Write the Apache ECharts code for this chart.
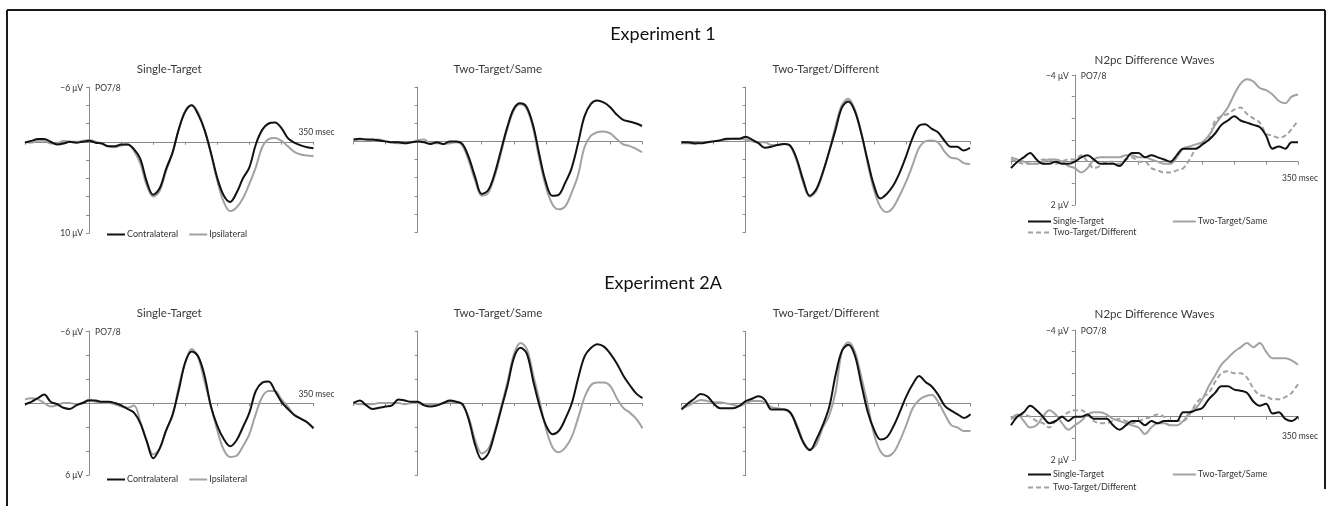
<!DOCTYPE html>
<html><head><meta charset="utf-8">
<script src="https://cdn.jsdelivr.net/npm/echarts/dist/echarts.min.js"></script>
<style>html,body{margin:0;padding:0;background:#fff}#c{width:1333px;height:506px}</style>
</head><body><div id="c"></div>
<script>
// ---------- data (μV, negative plotted upward) ----------
const times = [-100,-90,-80,-70,-60,-50,-40,-30,-20,-10,0,10,20,30,40,50,60,70,80,90,100,110,120,130,140,150,160,170,180,190,200,210,220,230,240,250,260,270,280,290,300,310,320,330,340,350];

const e1SingleContra = [0.1,-0.1,-0.3,-0.3,0.0,0.3,0.2,0.0,0.1,0.0, -0.1,0.1,0.2,0.5,0.5,0.3,0.3,0.8,1.9,4.4, 5.8,5.1,3.0,1.2,-1.4,-3.3,-4.0,-3.0,-1.3,1.2, 4.0,5.9,6.6,5.6,4.0,2.8,0.3,-1.3,-2.0,-2.1, -1.5,-0.4,0.1,0.4,0.6,0.7];
const e1SingleIpsi  = [0.0,0.1,-0.1,-0.1,0.2,0.2,-0.1,0.0,0.0,-0.1, -0.2,0.0,0.2,0.5,0.6,0.4,0.3,1.0,2.4,4.8, 6.0,5.4,3.2,1.3,-1.4,-3.4,-4.0,-3.2,-1.3,1.3, 4.3,6.6,7.6,7.2,6.2,4.6,2.8,0.6,-0.3,-0.4, -0.1,0.5,1.1,1.4,1.5,1.6];
const e1SameContra  = [-0.2,-0.3,-0.2,-0.2,-0.1,0.0,0.1,0.1,0.2,0.1, 0.0,0.1,0.3,0.1,0.3,0.0,0.0,0.3,1.8,4.0, 5.8,5.4,3.6,1.0,-1.6,-3.6,-4.2,-3.8,-1.8,1.5, 4.5,6.0,5.9,4.6,3.0,0.3,-2.7,-4.1,-4.5,-4.3, -3.8,-3.0,-2.4,-2.2,-2.0,-1.7];
const e1SameIpsi    = [-0.1,-0.2,-0.2,-0.1,-0.2,0.0,0.1,0.2,0.2,0.1, -0.1,-0.2,0.2,0.2,0.3,0.2,0.1,0.5,2.2,4.4, 6.0,5.7,3.9,1.3,-1.4,-3.4,-4.1,-3.6,-1.5,2.0, 5.0,6.9,7.5,7.2,5.7,3.8,0.7,-0.6,-1.0,-1.1, -0.9,-0.3,0.3,0.5,0.8,1.2];
const e1DiffContra  = [0.1,0.1,0.2,0.2,0.1,0.0,-0.1,-0.3,-0.3,-0.3, -0.5,-0.2,0.2,0.7,0.6,0.4,0.3,0.5,2.0,4.3, 6.0,5.3,3.5,1.2,-1.2,-3.7,-4.4,-3.4,-1.0,2.0, 4.8,6.3,5.8,4.9,3.5,1.7,-0.3,-1.7,-1.9,-1.4, -1.0,-0.1,0.6,0.6,1.0,0.7];
const e1DiffIpsi    = [0.2,0.2,0.3,0.1,0.1,0.0,-0.1,-0.2,-0.3,-0.3, -0.2,0.0,0.1,0.1,0.4,0.4,0.3,0.6,2.2,4.6, 6.1,5.5,3.6,1.2,-1.6,-4.0,-4.7,-3.6,-1.1,2.3, 5.3,7.2,7.8,7.3,6.0,4.5,2.7,0.8,0.0,-0.1, 0.1,1.1,1.8,1.9,2.4,2.5];

const d1Single = [0.3,0.0,-0.2,-0.4,-0.1,0.1,0.1,0.0,0.1,0.1, 0.0,-0.2,-0.3,-0.1,0.1,0.1,0.1,0.2,-0.1,-0.4, -0.4,-0.2,-0.3,-0.2,-0.1,0.0,-0.3,-0.6,-0.6,-0.6, -0.8,-1.0,-1.3,-1.7,-1.9,-2.1,-1.9,-1.8,-1.7,-1.6, -1.2,-0.6,-0.7,-0.6,-0.9,-0.9];
const d1Same   = [-0.2,-0.1,0.0,0.1,0.1,0.0,-0.1,-0.1,0.0,0.2, 0.3,0.5,0.3,-0.1,-0.2,-0.2,-0.2,-0.2,-0.3,-0.3, -0.2,-0.2,-0.1,0.0,0.1,0.1,-0.2,-0.6,-0.7,-0.8, -0.9,-1.2,-1.7,-2.1,-2.5,-3.1,-3.6,-3.8,-3.7,-3.4, -3.3,-3.1,-2.8,-2.7,-3.0,-3.1];
const d1Diff   = [-0.1,0.0,0.1,0.1,0.1,-0.1,-0.1,0.1,0.0,-0.1, -0.1,-0.3,0.0,0.3,0.2,0.0,0.0,0.1,-0.1,-0.2, 0.0,0.0,0.3,0.4,0.5,0.5,0.4,0.3,-0.1,-0.6, -0.8,-1.0,-1.9,-2.1,-2.2,-2.4,-2.5,-2.2,-2.0,-1.8, -1.3,-1.2,-1.1,-1.2,-1.5,-1.9];

const e2SingleContra = [0.1,-0.1,-0.4,-0.7,-0.1,0.1,0.4,0.5,0.2,0.0, -0.2,-0.2,-0.1,-0.1,0.0,0.2,0.5,0.8,1.7,3.2, 4.6,3.8,2.3,1.0,-1.1,-3.4,-4.3,-3.9,-2.3,0.3, 1.9,3.0,3.6,3.1,2.0,0.8,-1.0,-1.7,-1.8,-1.0, -0.1,0.5,1.0,1.3,1.6,2.1];
const e2SingleIpsi  = [-0.3,-0.4,-0.3,0.0,0.3,0.2,0.0,0.0,0.1,0.0, -0.3,-0.1,0.0,0.0,0.1,0.3,0.4,0.2,1.6,3.2, 4.3,3.8,2.3,1.1,-1.4,-3.4,-4.5,-3.8,-1.8,0.2, 2.3,3.9,4.5,4.4,3.6,2.6,0.9,-0.5,-1.0,-1.0, -0.3,0.3,1.0,1.3,1.6,2.1];
const e2SameContra  = [0.0,-0.2,0.2,0.5,0.4,0.3,0.2,-0.3,-0.2,-0.1, -0.1,0.2,0.3,0.2,0.0,-0.2,-0.1,0.1,1.5,3.6, 4.7,4.2,2.5,0.5,-1.5,-3.8,-4.6,-4.1,-1.8,0.3, 1.9,2.6,2.3,1.3,0.0,-2.1,-3.9,-4.6,-4.9,-4.7, -4.1,-3.3,-2.3,-1.5,-0.8,-0.4];
const e2SameIpsi    = [0.0,0.1,0.1,0.1,0.0,0.0,0.0,0.0,0.1,0.0, 0.0,0.1,0.1,0.1,0.0,-0.1,-0.1,0.2,1.3,3.2, 4.2,3.8,2.3,0.3,-1.8,-4.1,-5.0,-4.5,-2.3,-0.1, 2.2,3.7,4.1,3.7,2.8,1.2,-0.5,-1.5,-1.7,-1.7, -1.4,-0.4,0.4,0.8,1.3,2.1];
const e2DiffContra  = [0.5,0.0,-0.4,-0.8,-0.6,0.0,0.4,0.4,0.4,0.2, -0.2,-0.4,-0.6,-0.3,0.5,0.5,0.5,0.8,2.0,3.3, 3.9,3.0,1.8,0.3,-2.4,-4.4,-4.9,-4.0,-1.6,0.7, 2.2,3.0,2.8,1.9,0.7,-0.6,-1.6,-2.3,-1.8,-1.4, -0.7,0.2,0.6,0.9,1.2,0.9];
const e2DiffIpsi    = [0.4,0.2,-0.1,-0.3,-0.2,-0.1,-0.1,0.0,0.1,0.2, 0.0,-0.2,-0.2,-0.1,0.3,0.4,0.5,0.8,1.8,3.2, 3.8,3.4,2.0,1.0,-1.0,-4.4,-5.1,-4.3,-2.2,0.1, 2.6,4.0,4.4,4.1,3.1,1.8,0.4,-0.3,-0.6,-0.7, -0.1,0.9,1.8,2.0,2.3,2.3];

const d2Single = [0.4,0.0,-0.2,-0.5,-0.3,0.0,0.3,0.2,0.0,0.2, 0.0,0.0,-0.1,0.1,0.1,0.1,0.4,0.6,0.4,0.2, 0.2,0.4,0.2,0.3,0.2,0.2,0.2,-0.2,-0.2,-0.3, -0.4,-0.8,-1.1,-1.4,-1.4,-1.25,-1.2,-1.1,-0.7,-0.5, -0.6,-0.15,-0.2,0.1,0.2,0.0];
const d2Same   = [0.1,-0.1,0.2,0.5,0.4,0.0,-0.3,-0.1,0.3,0.6, 0.4,0.2,-0.1,-0.2,-0.2,-0.1,0.1,0.2,0.3,0.4, 0.5,0.8,0.5,0.3,0.3,0.4,0.4,0.2,-0.2,-0.4, -0.8,-1.4,-1.9,-2.4,-2.7,-3.0,-3.2,-3.4,-3.2,-3.4, -3.0,-2.7,-2.7,-2.7,-2.6,-2.4];
const d2Diff   = [0.1,0.0,-0.1,0.0,0.2,0.3,0.5,0.2,0.0,-0.2, -0.3,-0.3,-0.1,0.2,0.3,0.3,0.2,0.1,0.2,0.3, 0.2,0.1,0.0,-0.1,0.0,0.2,0.2,0.2,-0.1,-0.6, -0.9,-1.1,-1.6,-2.0,-2.1,-2.0,-2.0,-1.8,-1.3,-1.0, -0.95,-0.8,-0.8,-0.9,-1.1,-1.5];

// ---------- text ----------
const expTitles = ['Experiment 1', 'Experiment 2A'];
const panelTitles = ['Single-Target', 'Two-Target/Same', 'Two-Target/Different', 'N2pc Difference Waves'];
const erpNames = ['Contralateral', 'Ipsilateral'];
const diffNames = ['Single-Target', 'Two-Target/Same', 'Two-Target/Different'];
const y1Labels = ['\u22126 \u03bcV', '10 \u03bcV'];
const y2Labels = ['\u22126 \u03bcV', '6 \u03bcV'];
const yDLabels = ['\u22124 \u03bcV', '2 \u03bcV'];
const electrode = 'PO7/8';
const xEndLabel = '350 msec';

// ---------- style / layout ----------
const FONT = 'Lato, "Open Sans", sans-serif';
const BLACK = '#121212', GRAY = '#a2a2a2', AXIS = '#8a8a8a', TXT = '#333';

const panels = [
  // row 1
  {left:25,   top:87,  width:288.5, height:146, ymin:-6, ymax:10, iv:2, kind:'erp', c:e1SingleContra, i:e1SingleIpsi, labels:y1Labels, title:0, titleY:69, xlab:'above'},
  {left:353.5,top:87,  width:288.5, height:145, ymin:-6, ymax:10, iv:2, kind:'erp', c:e1SameContra,   i:e1SameIpsi,   title:1, titleY:69},
  {left:681.5,top:87,  width:288.5, height:145, ymin:-6, ymax:10, iv:2, kind:'erp', c:e1DiffContra,   i:e1DiffIpsi,   title:2, titleY:69},
  {left:1011, top:75,  width:287,   height:130, ymin:-4, ymax:2,  iv:1, kind:'diff', s:d1Single, sa:d1Same, df:d1Diff, labels:yDLabels, title:3, titleY:60, xlab:'below', xoff:17},
  // row 2
  {left:25,   top:331, width:288.5, height:144, ymin:-6, ymax:6,  iv:2, kind:'erp', c:e2SingleContra, i:e2SingleIpsi, labels:y2Labels, title:0, titleY:313, xlab:'above'},
  {left:353.5,top:331, width:289,   height:144, ymin:-6, ymax:6,  iv:2, kind:'erp', c:e2SameContra,   i:e2SameIpsi,   title:1, titleY:313},
  {left:681.5,top:331.5,width:289,  height:144, ymin:-6, ymax:6,  iv:2, kind:'erp', c:e2DiffContra,   i:e2DiffIpsi,   title:2, titleY:313},
  {left:1011, top:330, width:287,   height:130, ymin:-4, ymax:2,  iv:1, kind:'diff', s:d2Single, sa:d2Same, df:d2Diff, labels:yDLabels, title:3, titleY:314, xlab:'below', xoff:20}
];

const pairs = vals => times.map((t, k) => [t, vals[k]]);

const grid = [], xAxis = [], yAxis = [], series = [];
panels.forEach((p, g) => {
  grid.push({left:p.left, top:p.top, width:p.width, height:p.height, containLabel:false, outerBoundsMode:'none'});
  xAxis.push({gridIndex:g, type:'value', min:-100, max:350, interval:50,
    axisLine:{show:true, onZero:true, lineStyle:{color:AXIS, width:1}},
    axisTick:{show:true, length:3, lineStyle:{color:AXIS}},
    axisLabel:{show:false}, splitLine:{show:false}});
  yAxis.push({gridIndex:g, type:'value', inverse:true, min:p.ymin, max:p.ymax, interval:p.iv,
    axisLine:{show:true, onZero:true, lineStyle:{color:AXIS, width:1}},
    axisTick:{show:true, length:3, lineStyle:{color:AXIS}},
    axisLabel:{show:false}, splitLine:{show:false}});
  const base = {type:'line', xAxisIndex:g, yAxisIndex:g, showSymbol:false, symbol:'none', smooth:0.35, silent:true, animation:false};
  if (p.kind === 'erp') {
    series.push(Object.assign({}, base, {name:erpNames[1], data:pairs(p.i), lineStyle:{color:GRAY, width:2}, itemStyle:{color:GRAY}, z:2}));
    series.push(Object.assign({}, base, {name:erpNames[0], data:pairs(p.c), lineStyle:{color:BLACK, width:2}, itemStyle:{color:BLACK}, z:3}));
  } else {
    series.push(Object.assign({}, base, {name:diffNames[2], data:pairs(p.df), lineStyle:{color:GRAY, width:2, type:[5,3]}, itemStyle:{color:GRAY}, z:2}));
    series.push(Object.assign({}, base, {name:diffNames[1], data:pairs(p.sa), lineStyle:{color:GRAY, width:2}, itemStyle:{color:GRAY}, z:3}));
    series.push(Object.assign({}, base, {name:diffNames[0], data:pairs(p.s), lineStyle:{color:BLACK, width:2}, itemStyle:{color:BLACK}, z:4}));
  }
});

const legTxt = {fontSize:9, color:TXT, fontFamily:FONT, padding:[0,0,0,-3]};
const legCommon = {itemHeight:10, textStyle:legTxt, selectedMode:false, itemStyle:{opacity:0}, padding:0};
const legend = [
  Object.assign({data:erpNames, left:106, top:230, itemWidth:18, itemGap:10}, legCommon),
  Object.assign({data:erpNames, left:106, top:475, itemWidth:18, itemGap:10}, legCommon),
  Object.assign({data:[diffNames[0], diffNames[1]], left:1027, top:217, itemWidth:23, itemGap:68}, legCommon),
  Object.assign({data:[diffNames[2]], left:1027, top:228, itemWidth:23}, legCommon),
  Object.assign({data:[diffNames[0], diffNames[1]], left:1027, top:470, itemWidth:23, itemGap:68}, legCommon),
  Object.assign({data:[diffNames[2]], left:1027, top:483, itemWidth:23}, legCommon)
];

const chart = echarts.init(document.getElementById('c'), null, {renderer:'canvas'});
chart.setOption({animation:false, backgroundColor:'#fff', grid, xAxis, yAxis, series, legend});

// ---------- texts and frame placed from the axes ----------
function txt(x, y, text, size, color, align) {
  return {type:'text', x, y, silent:true, z:10,
    style:{text, fill:color, font: size + 'px ' + FONT, align, verticalAlign:'middle', textAlign:align, textVerticalAlign:'middle'}};
}
const elements = [
  {type:'line', shape:{x1:7, y1:10, x2:1325, y2:10}, style:{stroke:'#1a1a1a', lineWidth:2}, silent:true},
  {type:'line', shape:{x1:7, y1:10, x2:7, y2:506}, style:{stroke:'#1a1a1a', lineWidth:2}, silent:true},
  {type:'line', shape:{x1:1325, y1:10, x2:1325, y2:489}, style:{stroke:'#1a1a1a', lineWidth:2}, silent:true},
  txt(663, 34, expTitles[0], 18, '#111', 'center'),
  txt(663, 283, expTitles[1], 18, '#111', 'center')
];
panels.forEach((p, g) => {
  const mid = chart.convertToPixel({gridIndex:g}, [125, 0]);
  elements.push(txt(mid[0], p.titleY, panelTitles[p.title], 11.5, '#3a3a3a', 'center'));
  if (p.labels) {
    const topPt = chart.convertToPixel({gridIndex:g}, [0, p.ymin]);
    const botPt = chart.convertToPixel({gridIndex:g}, [0, p.ymax]);
    elements.push(txt(topPt[0] + 6, topPt[1] + 1, electrode, 8.5, TXT, 'left'));
    elements.push(txt(topPt[0] - 6, topPt[1] + 1, p.labels[0], 8.5, TXT, 'right'));
    elements.push(txt(botPt[0] - 6, botPt[1], p.labels[1], 8.5, TXT, 'right'));
  }
  if (p.xlab) {
    const endPt = chart.convertToPixel({gridIndex:g}, [350, 0]);
    if (p.xlab === 'above') elements.push(txt(endPt[0] + 3, endPt[1] - 9, xEndLabel, 8.5, TXT, 'center'));
    else elements.push(txt(endPt[0] + 2, endPt[1] + p.xoff, xEndLabel, 8.5, TXT, 'center'));
  }
});
chart.setOption({graphic:{elements}});
</script>
</body></html>
